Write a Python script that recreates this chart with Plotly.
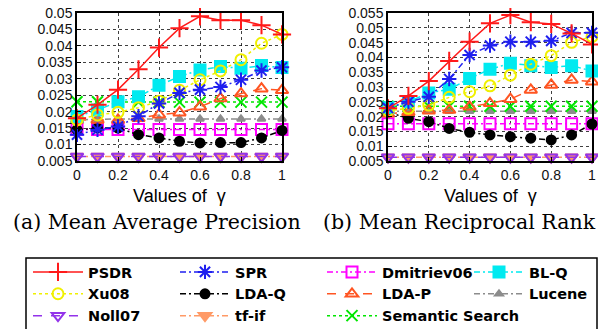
import plotly.graph_objects as go

gamma = [0, 0.1, 0.2, 0.3, 0.4, 0.5, 0.6, 0.7, 0.8, 0.9, 1.0]

# (a) Mean Average Precision
map_psdr = [0.0180, 0.0221, 0.0267, 0.0329, 0.0395, 0.0454, 0.0490, 0.0478, 0.0478, 0.0463, 0.0435]
map_xu08 = [0.0175, 0.0190, 0.0198, 0.0212, 0.0232, 0.0265, 0.0297, 0.0324, 0.0358, 0.0408, 0.0435]
map_spr = [0.0130, 0.0145, 0.0155, 0.0186, 0.0225, 0.0257, 0.0267, 0.0275, 0.0297, 0.0325, 0.0335]
map_blq = [0.0185, 0.0205, 0.0230, 0.0245, 0.0280, 0.0307, 0.0327, 0.0337, 0.0332, 0.0340, 0.0334]
map_ldap = [0.0175, 0.0175, 0.0175, 0.0180, 0.0191, 0.0197, 0.0215, 0.0240, 0.0255, 0.0270, 0.0265]
map_sem = [0.0230, 0.0230, 0.0229, 0.0229, 0.0229, 0.0229, 0.0229, 0.0229, 0.0229, 0.0229, 0.0229]
map_lucene = [0.0175, 0.0177, 0.0178, 0.0178, 0.0178, 0.0178, 0.0178, 0.0178, 0.0178, 0.0178, 0.0178]
map_dmit = [0.0146, 0.0146, 0.0146, 0.0146, 0.0146, 0.0146, 0.0146, 0.0146, 0.0146, 0.0146, 0.0146]
map_ldaq = [0.0145, 0.0150, 0.0150, 0.0130, 0.0120, 0.0110, 0.0105, 0.0106, 0.0106, 0.0120, 0.0143]
map_noll = [0.0064, 0.0064, 0.0064, 0.0064, 0.0064, 0.0064, 0.0064, 0.0064, 0.0064, 0.0064, 0.0064]
map_tfif = [0.0064, 0.0064, 0.0064, 0.0064, 0.0064, 0.0064, 0.0064, 0.0064, 0.0064, 0.0064, 0.0064]

# (b) Mean Reciprocal Rank
mrr_psdr = [0.0228, 0.0270, 0.0320, 0.0388, 0.0453, 0.0515, 0.0543, 0.0519, 0.0513, 0.0481, 0.0444]
mrr_xu08 = [0.0220, 0.0228, 0.0239, 0.0265, 0.0284, 0.0304, 0.0340, 0.0377, 0.0406, 0.0451, 0.0470]
mrr_spr = [0.0229, 0.0250, 0.0267, 0.0327, 0.0408, 0.0440, 0.0453, 0.0453, 0.0456, 0.0483, 0.0483]
mrr_blq = [0.0230, 0.0250, 0.0280, 0.0292, 0.0329, 0.0360, 0.0380, 0.0372, 0.0366, 0.0372, 0.0354]
mrr_ldap = [0.0210, 0.0215, 0.0220, 0.0222, 0.0233, 0.0245, 0.0259, 0.0290, 0.0307, 0.0324, 0.0318]
mrr_sem = [0.0235, 0.0235, 0.0235, 0.0235, 0.0235, 0.0235, 0.0235, 0.0235, 0.0235, 0.0235, 0.0235]
mrr_lucene = [0.0218, 0.0218, 0.0218, 0.0218, 0.0218, 0.0218, 0.0218, 0.0218, 0.0218, 0.0218, 0.0218]
mrr_dmit = [0.0176, 0.0176, 0.0176, 0.0176, 0.0176, 0.0176, 0.0176, 0.0176, 0.0176, 0.0176, 0.0176]
mrr_ldaq = [0.0215, 0.0194, 0.0183, 0.0160, 0.0147, 0.0138, 0.0132, 0.0127, 0.0121, 0.0138, 0.0175]
mrr_noll = [0.0063, 0.0063, 0.0063, 0.0063, 0.0063, 0.0063, 0.0063, 0.0063, 0.0063, 0.0063, 0.0063]
mrr_tfif = [0.0063, 0.0063, 0.0063, 0.0063, 0.0063, 0.0063, 0.0063, 0.0063, 0.0063, 0.0063, 0.0063]

x_ticks = [0, 0.2, 0.4, 0.6, 0.8, 1]
x_tick_text = ["0", "0.2", "0.4", "0.6", "0.8", "1"]
y_ticks_a = [0.005, 0.01, 0.015, 0.02, 0.025, 0.03, 0.035, 0.04, 0.045, 0.05]
y_ticks_b = [0.005, 0.01, 0.015, 0.02, 0.025, 0.03, 0.035, 0.04, 0.045, 0.05, 0.055]
y_tick_text_a = ["0.005", "0.01", "0.015", "0.02", "0.025", "0.03", "0.035", "0.04", "0.045", "0.05"]
y_tick_text_b = ["0.005", "0.01", "0.015", "0.02", "0.025", "0.03", "0.035", "0.04", "0.045", "0.05", "0.055"]

W, H = 606, 329
OFF = 8  # page body margin offset
EPS = 1e-6


def px(x):
    return (x - OFF) / W


def py(y):
    return 1 - (y - OFF) / H


DD = "6px,3px,2px,3px"
series = [
    ("Lucene", 8, "#8c8c8c", DD, "triangle-up", 7, map_lucene, mrr_lucene),
    ("tf-if", 10, "#ff9a66", DD, "triangle-down", 11, map_tfif, mrr_tfif),
    ("Noll07", 9, "#9333ea", "dash", "triangle-down-open", 11, map_noll, mrr_noll),
    ("Dmitriev06", 3, "#ff00ff", DD, "square-open", 11, map_dmit, mrr_dmit),
    ("LDA-Q", 6, "#000000", DD, "circle", 9, map_ldaq, mrr_ldaq),
    ("Semantic Search", 11, "#00e600", "dot", "x-thin-open", 11, map_sem, mrr_sem),
    ("LDA-P", 7, "#ff5522", "dash", "triangle-up-open", 11, map_ldap, mrr_ldap),
    ("BL-Q", 4, "#00eaf0", DD, "square", 11, map_blq, mrr_blq),
    ("Xu08", 5, "#f0f000", "dot", "circle-open", 11, map_xu08, mrr_xu08),
    ("SPR", 2, "#1f1fef", DD, "asterisk-open", 12, map_spr, mrr_spr),
    ("PSDR", 1, "#ff1a1a", "solid", "cross-thin-open", 13, map_psdr, mrr_psdr),
]

fig = go.Figure()
for name, rank, color, dash, sym, size, ya, yb in series:
    for i, (yv, xa, yax) in enumerate([(ya, "x", "y"), (yb, "x2", "y2")]):
        fig.add_trace(go.Scatter(
            x=gamma, y=yv, xaxis=xa, yaxis=yax, name=name, legendrank=rank,
            mode="lines+markers", showlegend=(i == 0), cliponaxis=False,
            line=dict(color=color, width=1.5, dash=dash),
            marker=dict(symbol=sym, size=size, color=color,
                        line=dict(color=color, width=2)),
        ))

axis_common = dict(
    showline=True, linecolor="black", linewidth=1.5, mirror=True,
    showgrid=True, gridcolor="rgba(0,0,0,0.75)", griddash="dot", gridwidth=1,
    ticks="inside", ticklen=4, tickcolor="black", zeroline=False,
    ticklabeloverflow="allow",
    tickfont=dict(family="Liberation Sans, Arial", size=14, color="#111"),
)

fig.update_layout(
    width=W, height=H,
    margin=dict(l=0, r=0, t=0, b=0, autoexpand=False),
    paper_bgcolor="white", plot_bgcolor="white",
    xaxis=dict(domain=[px(77), px(282)], range=[0 - EPS, 1 + EPS], tickvals=x_ticks, ticktext=x_tick_text,
               anchor="y", **axis_common),
    yaxis=dict(domain=[py(161), py(13)], range=[0.005 - EPS, 0.05 + EPS], tickvals=y_ticks_a,
               ticktext=y_tick_text_a, anchor="x", **axis_common),
    xaxis2=dict(domain=[px(388), px(592)], range=[0 - EPS, 1 + EPS], tickvals=x_ticks, ticktext=x_tick_text,
                anchor="y2", **axis_common),
    yaxis2=dict(domain=[py(161), py(13)], range=[0.005 - EPS, 0.055 + EPS], tickvals=y_ticks_b,
                ticktext=y_tick_text_b, anchor="x2", **axis_common),
    showlegend=True,
    legend=dict(
        orientation="h", x=px(28), xanchor="left", y=py(256), yanchor="top",
        borderwidth=0, bgcolor="rgba(0,0,0,0)",
        font=dict(family="DejaVu Sans", size=14.5, color="black", weight="bold"),
        entrywidthmode="pixels", entrywidth=82, itemwidth=50, traceorder="normal",
    ),
)

# legend frame
fig.add_shape(type="rect", xref="paper", yref="paper", x0=px(26), x1=px(597),
              y0=py(345), y1=py(258), line=dict(color="black", width=1.5), layer="below")

for cx in [(77 + 282) / 2, (388 + 592) / 2]:
    fig.add_annotation(text="Values of  γ", x=px(cx), y=py(196), xref="paper", yref="paper",
                       xanchor="center", yanchor="middle", showarrow=False,
                       font=dict(family="Liberation Sans, Arial", size=18, color="black"))
fig.add_annotation(text="(a) Mean Average Precision", x=px(157), y=py(222), xref="paper", yref="paper",
                   xanchor="center", yanchor="middle", showarrow=False,
                   font=dict(family="DejaVu Serif", size=20.5, color="black"))
fig.add_annotation(text="(b) Mean Reciprocal Rank", x=px(459), y=py(222), xref="paper", yref="paper",
                   xanchor="center", yanchor="middle", showarrow=False,
                   font=dict(family="DejaVu Serif", size=20.5, color="black"))

fig.write_html("out.html")
